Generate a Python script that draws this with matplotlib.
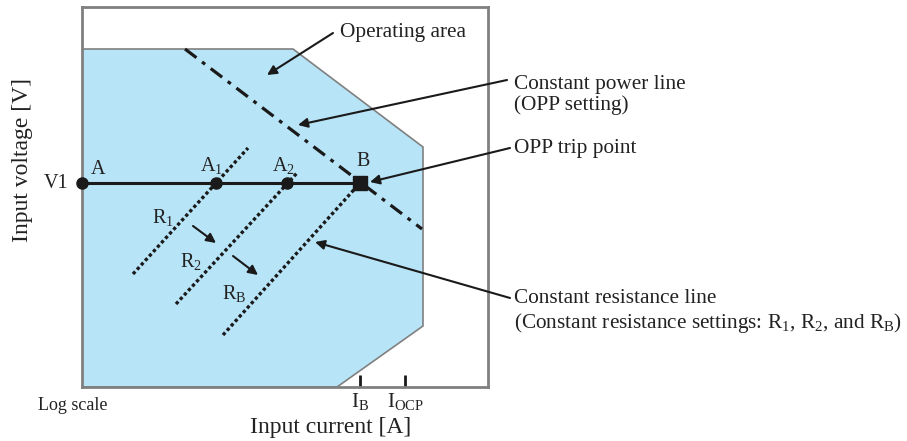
import matplotlib
matplotlib.use('Agg')
import matplotlib.pyplot as plt
from matplotlib.patches import Polygon

plt.rcParams['font.family'] = ['Liberation Serif', 'DejaVu Serif']
plt.rcParams['mathtext.fontset'] = 'custom'
plt.rcParams['mathtext.rm'] = 'Liberation Serif'
plt.rcParams['mathtext.it'] = 'Liberation Serif'

# schematic coordinates (log current, voltage) in arbitrary units
area_x = [0, 211, 341, 341, 255, 0]
area_y = [338, 338, 240, 61, 0, 0]

v1 = 204
pts_x = [0, 134, 205]
b_x = 278

power_x = [103, 340]
power_y = [338, 158]

res_x = [[51, 166], [94, 215], [141, 278]]
res_y = [[113, 239], [83, 214], [52, 204]]
res_names = ['R$_1$', 'R$_2$', 'R$_B$']
res_lbl_x = [81, 109, 152]
res_lbl_y = [169, 125, 93]

step_arrows = [((111, 161), (134, 144)), ((151, 131), (176, 112))]

tick_pos = [278, 323]
tick_lbl = ['I$_B$', 'I$_{OCP}$']

fig = plt.figure(figsize=(9.07, 4.41), dpi=100)
ax = fig.add_axes([82/907, 1-387/441, 406/907, 380/441])
ax.set_xlim(0, 406)
ax.set_ylim(0, 380)

ax.add_patch(Polygon(list(zip(area_x, area_y)), closed=True,
                     facecolor='#b8e4f8', edgecolor='#808080', lw=1.2, zorder=1))

# constant power line
ax.plot(power_x, power_y, color='#1a1a1a', lw=2.3, ls=(0, (4.5, 2.2, 1.2, 2.2)), zorder=3)

# constant resistance lines
for xs, ys in zip(res_x, res_y):
    ax.plot(xs, ys, color='#1a1a1a', lw=2.4, ls=(0, (1, 0.8)), zorder=3)
for nm, lx, ly in zip(res_names, res_lbl_x, res_lbl_y):
    ax.text(lx, ly, nm, fontsize=14.5, ha='center', va='center', color='#222222')
for s, e in step_arrows:
    ax.annotate('', xy=e, xytext=s,
                arrowprops=dict(arrowstyle='-|>', color='#1a1a1a', lw=1.5,
                                mutation_scale=14, shrinkA=0, shrinkB=0))

# V1 line and operating points
ax.plot([0, b_x], [v1, v1], color='#1a1a1a', lw=2.2, zorder=4)
ax.plot(pts_x, [v1]*3, 'o', color='#1a1a1a', ms=8, zorder=5, clip_on=False)
ax.plot([b_x], [v1], 's', color='#1a1a1a', ms=10, zorder=5)
ax.text(16, 217, 'A', fontsize=14.5, ha='center', va='center', color='#222222')
ax.text(129, 221, 'A$_1$', fontsize=14.5, ha='center', va='center', color='#222222')
ax.text(201, 222, 'A$_2$', fontsize=14.5, ha='center', va='center', color='#222222')
ax.text(281, 225, 'B', fontsize=14.5, ha='center', va='center', color='#222222')
ax.text(-14, v1, 'V1', fontsize=14.5, ha='right', va='center', color='#222222')

# axes frame
for sp in ax.spines.values():
    sp.set_color('#808080')
    sp.set_linewidth(2)
ax.set_yticks([])
ax.set_xticks(tick_pos)
ax.set_xticklabels(tick_lbl, fontsize=15, color='#222222')
ax.tick_params(axis='x', direction='in', length=9, width=2, color='#1a1a1a', pad=3)

fig.text(23, 281, 'Input voltage [V]', transform=None, fontsize=17, rotation=90,
         ha='center', va='center', color='#222222')
fig.text(331, 13, 'Input current [A]', transform=None, fontsize=17,
         ha='center', va='center', color='#222222')
fig.text(73, 36, 'Log scale', transform=None, fontsize=13,
         ha='center', va='center', color='#222222')

# callouts
callouts = [
    ('Operating area', (340, 409), (333, 408), (185, 312)),
    ('Constant power line\n(OPP setting)', (514, 346), (507, 361), (216, 262)),
    ('OPP trip point', (514, 293), (510, 293), (288, 205)),
    ('Constant resistance line\n(Constant resistance settings: R$_1$, R$_2$, and R$_B$)',
     (514, 129), (510, 143), (233, 145)),
]
for txt, tpos, start, target in callouts:
    fig.text(tpos[0], tpos[1], txt, transform=None, fontsize=15.3,
             ha='left', va='center', color='#222222', linespacing=1.15)
    ax.annotate('', xy=target, xycoords='data', xytext=start,
                textcoords='figure pixels', annotation_clip=False,
                arrowprops=dict(arrowstyle='-|>', color='#1a1a1a', lw=1.5,
                                mutation_scale=14, shrinkA=0, shrinkB=0))

fig.savefig('out.png', dpi=100)
